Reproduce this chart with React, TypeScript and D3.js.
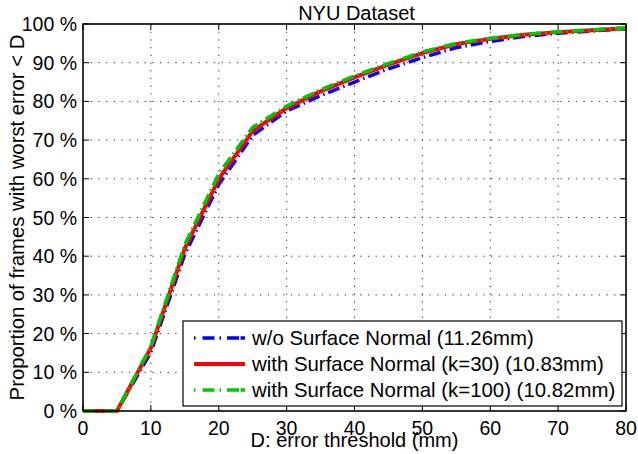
import React from "react";
import * as d3 from "d3";

const thresholds = [0, 5, 10, 15, 20, 25, 30, 35, 40, 45, 50, 55, 60, 65, 70, 75, 80];
const woNormal = [0, 0, 15.2, 40.5, 58.5, 71.2, 77.5, 81.5, 85.0, 88.4, 91.3, 93.9, 95.5, 96.8, 97.6, 98.2, 98.8];
const normalK30 = [0, 0, 16.3, 42.0, 60.0, 72.4, 78.3, 82.6, 86.2, 89.5, 92.5, 94.8, 96.2, 97.2, 97.9, 98.4, 98.9];
const normalK100 = [0, 0, 16.8, 43.0, 61.3, 73.3, 78.8, 83.0, 86.6, 89.8, 92.8, 95.0, 96.3, 97.3, 98.0, 98.5, 99.0];
const xTicks = [0, 10, 20, 30, 40, 50, 60, 70, 80];
const yTicks = [0, 10, 20, 30, 40, 50, 60, 70, 80, 90, 100];
const seriesLabels = [
  "w/o Surface Normal (11.26mm)",
  "with Surface Normal (k=30) (10.83mm)",
  "with Surface Normal (k=100) (10.82mm)",
];
const title = "NYU Dataset";
const xLabel = "D: error threshold (mm)";
const yLabel = "Proportion of frames with worst error < D";

const W = 638;
const H = 454;
const L = 83, R = 626, T = 24, B = 411;
const FONT = "'Liberation Sans', Arial, Helvetica, sans-serif";

export default function App() {
  const x = d3.scaleLinear().domain([0, 80]).range([L, R]);
  const y = d3.scaleLinear().domain([0, 100]).range([B, T]);
  const line = d3
    .line<number>()
    .x((_, i) => x(thresholds[i]))
    .y((d) => y(d));

  const series = [
    { data: woNormal, color: "#0000ff", width: 3.5, dash: "12 4 1.5 4" },
    { data: normalK30, color: "#ff0000", width: 4, dash: "" },
    { data: normalK100, color: "#00c800", width: 3.5, dash: "12 4 1.5 4" },
  ];

  const legX = 183, legY = 321, legW = 439, legH = 85;
  const rowY = [338, 364, 390];

  return (
    <svg
      width={W}
      height={H}
      style={{ position: "absolute", left: 0, top: 0, background: "#fff" }}
      fontFamily={FONT}
    >
      <rect x={0} y={0} width={W} height={H} fill="#fff" />
      {/* grid */}
      {xTicks.slice(1, -1).map((t) => (
        <line key={"gx" + t} x1={x(t)} x2={x(t)} y1={T} y2={B} stroke="#222" strokeWidth={1} strokeDasharray="1.2 6.5" />
      ))}
      {yTicks.slice(1, -1).map((t) => (
        <line key={"gy" + t} x1={L} x2={R} y1={y(t)} y2={y(t)} stroke="#222" strokeWidth={1} strokeDasharray="1.2 6.5" />
      ))}
      {/* ticks */}
      {xTicks.map((t) => (
        <g key={"tx" + t}>
          <line x1={x(t)} x2={x(t)} y1={B} y2={B - 6} stroke="#000" strokeWidth={1} />
          <line x1={x(t)} x2={x(t)} y1={T} y2={T + 6} stroke="#000" strokeWidth={1} />
          <text x={x(t)} y={435} fontSize={19.5} textAnchor="middle" fill="#000">
            {t}
          </text>
        </g>
      ))}
      {yTicks.map((t) => (
        <g key={"ty" + t}>
          <line x1={L} x2={L + 6} y1={y(t)} y2={y(t)} stroke="#000" strokeWidth={1} />
          <line x1={R} x2={R - 6} y1={y(t)} y2={y(t)} stroke="#000" strokeWidth={1} />
          <text x={77} y={y(t)} dy="0.36em" fontSize={19.5} textAnchor="end" fill="#000">
            {t} %
          </text>
        </g>
      ))}
      {/* curves */}
      {series.map((s, i) => (
        <path
          key={"s" + i}
          d={line(s.data) || ""}
          fill="none"
          stroke={s.color}
          strokeWidth={s.width}
          strokeDasharray={s.dash || undefined}
          strokeLinejoin="round"
        />
      ))}
      {/* axes box */}
      <rect x={L} y={T} width={R - L} height={B - T} fill="none" stroke="#000" strokeWidth={1.6} />
      {/* legend */}
      <rect x={legX} y={legY} width={legW} height={legH} fill="#fff" stroke="#000" strokeWidth={1.2} />
      {series.map((s, i) => (
        <g key={"l" + i}>
          <line
            x1={194}
            x2={245}
            y1={rowY[i]}
            y2={rowY[i]}
            stroke={s.color}
            strokeWidth={s.width}
            strokeDasharray={s.dash ? "1.5 7 12 5 1.5 6 12" : undefined}
          />
          <text x={252} y={rowY[i]} dy="0.36em" fontSize={20.4} fill="#000">
            {seriesLabels[i]}
          </text>
        </g>
      ))}
      {/* labels */}
      <text x={(L + R) / 2 + 2} y={20} fontSize={20} textAnchor="middle" fill="#000">
        {title}
      </text>
      <text x={(L + R) / 2} y={447} fontSize={20} textAnchor="middle" fill="#000">
        {xLabel}
      </text>
      <text
        transform={`translate(24, ${(T + B) / 2}) rotate(-90)`}
        fontSize={20.3}
        textAnchor="middle"
        fill="#000"
      >
        {yLabel}
      </text>
    </svg>
  );
}
